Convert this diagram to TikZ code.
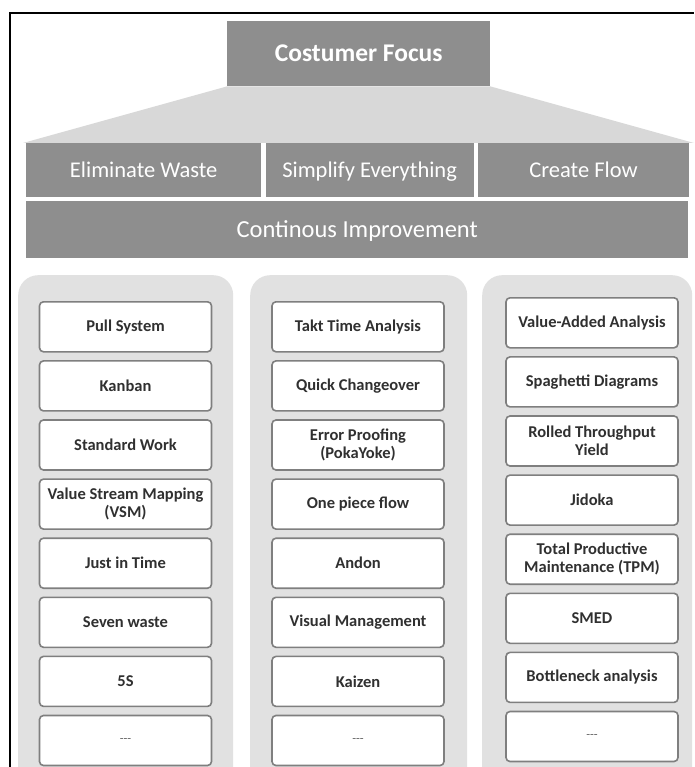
\documentclass[tikz,border=0pt]{standalone}
\usepackage{fontspec}
\setmainfont{Carlito}
\usetikzlibrary{positioning}

\definecolor{pillargray}{HTML}{8E8E8E}
\definecolor{roofgray}{HTML}{D8D8D8}
\definecolor{columngray}{HTML}{E1E1E1}
\definecolor{toolborder}{HTML}{7F7F7F}
\definecolor{tooltext}{HTML}{303030}

\begin{document}
\begin{tikzpicture}[x=1pt, y=-1pt, node distance=7.5pt,
    pillar/.style={fill=pillargray, text=white, inner sep=0pt, text height=16pt, text depth=1.5pt, font=\fontsize{22.5}{24}\selectfont},
    column/.style={fill=columngray, rounded corners=20pt, minimum width=215pt, minimum height=540pt, inner sep=0pt},
    tool/.style={draw=toolborder, line width=1.6pt, fill=white, rounded corners=4pt, minimum width=172pt, minimum height=50pt, inner sep=1pt, align=center, text=tooltext, font=\fontsize{16.5}{18}\selectfont\bfseries},
    more/.style={text=gray!80!black, font=\fontsize{12.5}{14}\selectfont\mdseries}]
    \clip (0,0) rectangle (694,767);
    \fill[white] (0,0) rectangle (694,767);

    % roof
    \node [pillar, minimum width=263pt, minimum height=65pt, anchor=north west, text height=17.5pt, text depth=1.1pt, font=\fontsize{25.5}{27}\selectfont\bfseries] (cf) at (227,21) {Costumer Focus};
    \fill[roofgray] (cf.south west) -- (cf.south east) -- (694,143) -- (23,143) -- cycle;

    % principles
    \node [pillar, minimum width=235pt, minimum height=54pt, anchor=north west] (ew) at (26,143) {Eliminate Waste};
    \node [pillar, minimum width=208pt, minimum height=54pt, right=4pt of ew] (se) {Simplify Everything};
    \node [pillar, minimum width=211pt, minimum height=54pt, right=4pt of se] (cfl) {Create Flow};
    \node [pillar, minimum width=662pt, minimum height=57pt, anchor=north west, text height=17pt, text depth=1.2pt, font=\fontsize{24.5}{26}\selectfont] (ci) at (26,201) {Continous Improvement};

    % columns
    \node [column, anchor=north west] (colA) at (18,275) {};
    \node [column, anchor=north west, minimum width=217pt] (colB) at (250,275) {};
    \node [column, anchor=north west, minimum width=210pt] (colC) at (482,275) {};

    % first column
    \node [tool, anchor=north] (pull) at (125.5,301) {Pull System};
    \node [tool, below=of pull] (kanban) {Kanban};
    \node [tool, below=of kanban] (stdwork) {Standard Work};
    \node [tool, below=of stdwork] (vsm) {Value Stream Mapping\\(VSM)};
    \node [tool, below=of vsm] (jit) {Just in Time};
    \node [tool, below=of jit] (seven) {Seven waste};
    \node [tool, below=of seven] (fives) {5S};
    \node [tool, below=of fives, more] (moreA) {-{}-{}-};

    % second column
    \node [tool, anchor=north] (takt) at (358,301) {Takt Time Analysis};
    \node [tool, below=of takt] (quick) {Quick Changeover};
    \node [tool, below=of quick] (poka) {Error Proofing\\(PokaYoke)};
    \node [tool, below=of poka] (onepiece) {One piece flow};
    \node [tool, below=of onepiece] (andon) {Andon};
    \node [tool, below=of andon] (visual) {Visual Management};
    \node [tool, below=of visual] (kaizen) {Kaizen};
    \node [tool, below=of kaizen, more] (moreB) {-{}-{}-};

    % third column
    \node [tool, anchor=north] (vaa) at (592,297) {Value-Added Analysis};
    \node [tool, below=of vaa] (spaghetti) {Spaghetti Diagrams};
    \node [tool, below=of spaghetti] (rty) {Rolled Throughput\\Yield};
    \node [tool, below=of rty] (jidoka) {Jidoka};
    \node [tool, below=of jidoka] (tpm) {Total Productive\\Maintenance (TPM)};
    \node [tool, below=of tpm] (smed) {SMED};
    \node [tool, below=of smed] (bottle) {Bottleneck analysis};
    \node [tool, below=of bottle, more] (moreC) {-{}-{}-};

    % frame
    \draw [line width=1.5pt] (10,767) -- (10,13) -- (694,13);
\end{tikzpicture}
\end{document}
